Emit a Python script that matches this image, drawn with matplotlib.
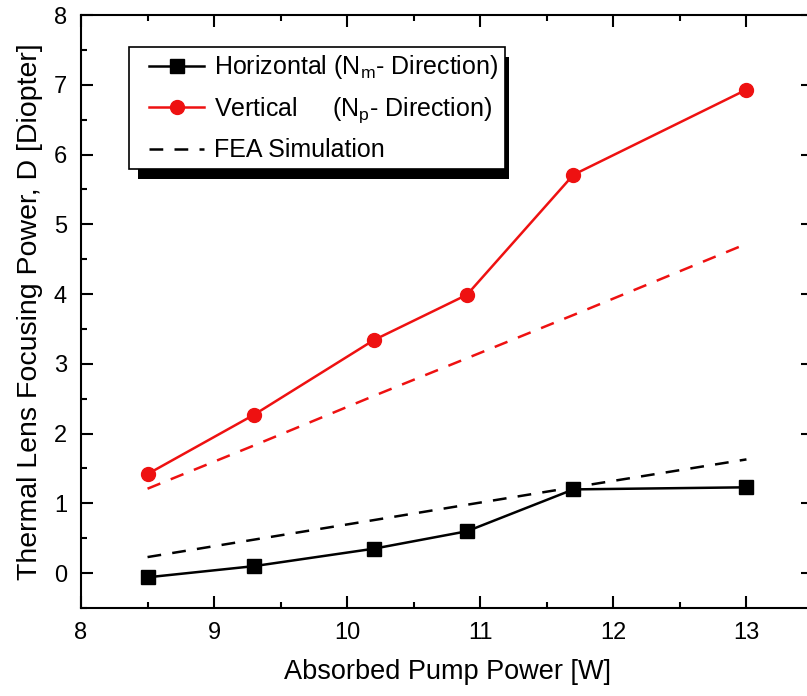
import numpy as np
import matplotlib
matplotlib.use("Agg")
import matplotlib.pyplot as plt
from matplotlib.patches import Rectangle
from matplotlib.ticker import MultipleLocator
from matplotlib.legend_handler import HandlerLine2D

plt.rcParams['font.family'] = ['Liberation Sans', 'DejaVu Sans']
plt.rcParams['mathtext.default'] = 'regular'

# absorbed pump power [W]
pump_power = [8.5, 9.3, 10.2, 10.9, 11.7, 13.0]
# measured thermal lens power [diopter]
horizontal = [-0.06, 0.10, 0.35, 0.60, 1.20, 1.23]
vertical = [1.42, 2.27, 3.34, 3.99, 5.71, 6.93]
# FEA simulation
fea_horizontal = [0.23, 0.48, 0.76, 0.98, 1.23, 1.63]
fea_vertical = [1.21, 1.83, 2.54, 3.08, 3.70, 4.72]


class PaddedHandler(HandlerLine2D):
    # pushes the legend sample line to the right a little
    shift = 10

    def create_artists(self, legend, orig_handle, xdescent, ydescent, width,
                       height, fontsize, trans):
        return super().create_artists(legend, orig_handle, xdescent - self.shift,
                                      ydescent, width - self.shift, height,
                                      fontsize, trans)


W, H = 807, 696
fig = plt.figure(figsize=(W / 100, H / 100), dpi=100)
ax = fig.add_axes([81 / W, 88 / H, (813 - 81) / W, (608 - 15) / H])

red = '#ee1111'
l1, = ax.plot(pump_power, horizontal, color='black', lw=1.8, marker='s', ms=9.5,
              label='Horizontal (N$_m$- Direction)')
l2, = ax.plot(pump_power, vertical, color=red, lw=1.8, marker='o', ms=10,
              label='Vertical     (N$_p$- Direction)')
l3, = ax.plot(pump_power, fea_horizontal, color='black', lw=1.8, dashes=(5.5, 4.5),
              label='FEA Simulation')
ax.plot(pump_power, fea_vertical, color=red, lw=1.8, dashes=(5.5, 4.5))

ax.set_xlim(8, 13.5)
ax.set_ylim(-0.5, 8)
ax.xaxis.set_major_locator(MultipleLocator(1))
ax.xaxis.set_minor_locator(MultipleLocator(0.5))
ax.yaxis.set_major_locator(MultipleLocator(1))
ax.yaxis.set_minor_locator(MultipleLocator(0.5))
ax.tick_params(which='both', direction='in', top=True, right=True, width=1.5,
               labelsize=17)
ax.tick_params(which='major', length=8.5, pad=10)
ax.tick_params(which='minor', length=4.5)
for s in ax.spines.values():
    s.set_linewidth(1.5)

ax.set_xlabel('Absorbed Pump Power [W]', fontsize=19.5, labelpad=11)
ax.set_ylabel('Thermal Lens Focusing Power, D [Diopter]', fontsize=20.5, labelpad=8)

hmap = {h: PaddedHandler() for h in (l1, l2, l3)}
leg = ax.legend(loc='upper left', bbox_to_anchor=(0.066, 0.946), borderaxespad=0,
                fontsize=18, frameon=True, fancybox=False, framealpha=1,
                edgecolor='black', handlelength=2.75, handletextpad=0.4,
                labelspacing=0.55, borderpad=0.25, handler_map=hmap)
leg.get_frame().set_linewidth(1.2)

# offset black shadow behind the legend box
fig.canvas.draw()
bb = leg.get_window_extent()
shadow = Rectangle((bb.x0 + 9, bb.y0 - 10), bb.width - 5, bb.height, transform=None,
                   facecolor='black', edgecolor='none', zorder=4.5)
ax.add_artist(shadow)

fig.savefig('out.png', dpi=100)
